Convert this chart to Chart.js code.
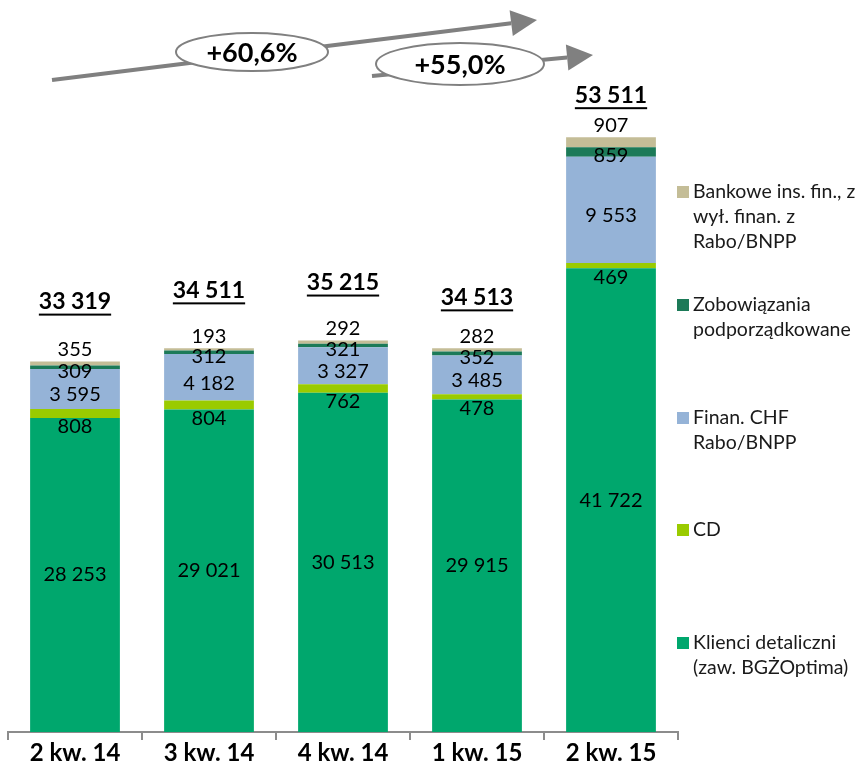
<!DOCTYPE html>
<html>
<head>
<meta charset="utf-8">
<script src="https://cdn.jsdelivr.net/npm/chart.js@4"></script>
<style>
  body { margin: 0; background: #fff; }
  #wrap { position: relative; width: 862px; height: 766px; }
</style>
</head>
<body>
<div id="wrap"><canvas id="c" width="862" height="766"></canvas></div>
<script>
// dane
var kwartaly = ["2 kw. 14", "3 kw. 14", "4 kw. 14", "1 kw. 15", "2 kw. 15"];
var klienci = [28253, 29021, 30513, 29915, 41722];
var cd = [808, 804, 762, 478, 469];
var finanChf = [3595, 4182, 3327, 3485, 9553];
var zobowiazania = [309, 312, 321, 352, 859];
var bankowe = [355, 193, 292, 282, 907];
var sumy = [33319, 34511, 35215, 34513, 53511];
var dynamika = ["+60,6%", "+55,0%"];

var FONT = "Lato, 'Open Sans', sans-serif";

function fmt(v) {
    return String(v).replace(/\B(?=(\d{3})+(?!\d))/g, " ");
}

var serie = [
    { label: ["Klienci detaliczni", "(zaw. BGŻOptima)"], data: klienci, color: "#00A76D" },
    { label: ["CD"], data: cd, color: "#9ACB00" },
    { label: ["Finan. CHF", "Rabo/BNPP"], data: finanChf, color: "#95B3D7" },
    { label: ["Zobowiązania", "podporządkowane"], data: zobowiazania, color: "#1C7A58" },
    { label: ["Bankowe ins. fin., z", "wył. finan. z", "Rabo/BNPP"], data: bankowe, color: "#C4BD97" }
];

// gdzie legenda (y pierwszej linii), od gory
var legendY = [192, 305, 418, 530, 643];
var legendOrder = [4, 3, 2, 1, 0];
// przesuniecie sum nad slupkami
var sumOffset = [60, 58, 58, 51, 42];

var labelsPlugin = {
    id: "etykiety",
    afterDatasetsDraw: function(chart) {
        var ctx = chart.ctx;
        ctx.save();
        ctx.textAlign = "center";
        ctx.textBaseline = "middle";
        ctx.fillStyle = "#000";
        ctx.font = "20px " + FONT;
        chart.data.datasets.forEach(function(ds, di) {
            var meta = chart.getDatasetMeta(di);
            meta.data.forEach(function(bar, i) {
                var top = bar.y, bottom = bar.base;
                var y;
                if (di == 0) y = (top + bottom) / 2;
                else if (di == 1) y = bottom + 9;
                else if (di == 2) y = (top + bottom) / 2 + 6;
                else if (di == 3) y = (top + bottom) / 2 + 4;
                else y = top - 12;
                ctx.fillText(fmt(ds.data[i]), bar.x, y);
            });
        });
        // sumy
        var last = chart.getDatasetMeta(chart.data.datasets.length - 1);
        ctx.font = "bold 23px " + FONT;
        last.data.forEach(function(bar, i) {
            var t = fmt(sumy[i]);
            var y = bar.y - sumOffset[i];
            ctx.fillText(t, bar.x, y);
            var w = ctx.measureText(t).width;
            ctx.fillRect(bar.x - w / 2, y + 12, w, 2);
        });
        ctx.restore();
    },
    afterDraw: function(chart) {
        var ctx = chart.ctx;
        ctx.save();
        // legenda
        ctx.font = "19.5px " + FONT;
        ctx.textAlign = "left";
        ctx.textBaseline = "middle";
        legendOrder.forEach(function(di, k) {
            var s = serie[di];
            ctx.fillStyle = s.color;
            ctx.fillRect(677, legendY[k] - 6, 12, 12);
            ctx.fillStyle = "#1a1a1a";
            s.label.forEach(function(line, j) {
                ctx.fillText(line, 693, legendY[k] + j * 25);
            });
        });

        // strzalki
        function arrow(x1, y1, x2, y2, head) {
            var a = Math.atan2(y2 - y1, x2 - x1);
            var bx = x2 - head * Math.cos(a), by = y2 - head * Math.sin(a);
            ctx.strokeStyle = "#808080";
            ctx.lineWidth = 4;
            ctx.beginPath();
            ctx.moveTo(x1, y1);
            ctx.lineTo(bx, by);
            ctx.stroke();
            ctx.fillStyle = "#808080";
            ctx.beginPath();
            ctx.moveTo(x2, y2);
            ctx.lineTo(bx + 13 * Math.sin(a), by - 13 * Math.cos(a));
            ctx.lineTo(bx - 13 * Math.sin(a), by + 13 * Math.cos(a));
            ctx.closePath();
            ctx.fill();
        }
        function bubble(cx, cy, rx, ry, text) {
            ctx.beginPath();
            ctx.ellipse(cx, cy, rx, ry, 0, 0, Math.PI * 2);
            ctx.fillStyle = "#fff";
            ctx.fill();
            ctx.strokeStyle = "#808080";
            ctx.lineWidth = 2;
            ctx.stroke();
            ctx.fillStyle = "#000";
            ctx.font = "bold 27px " + FONT;
            ctx.textAlign = "center";
            ctx.textBaseline = "middle";
            ctx.fillText(text, cx, cy + 1);
        }
        arrow(52, 80, 537, 20, 26);
        bubble(252, 52, 76, 19, dynamika[0]);
        arrow(372, 76, 593, 55, 26);
        bubble(460, 64, 84, 21, dynamika[1]);
        ctx.restore();
    }
};

var datasets = serie.map(function(s) {
    return {
        label: s.label.join(" "),
        data: s.data,
        backgroundColor: s.color,
        borderWidth: 0,
        barPercentage: 0.67,
        categoryPercentage: 1
    };
});

var chart = new Chart(document.getElementById("c").getContext("2d"), {
    type: "bar",
    data: { labels: kwartaly, datasets: datasets },
    options: {
        responsive: false,
        animation: false,
        layout: { padding: { left: 8, right: 184, top: 0, bottom: 0 } },
        plugins: { legend: { display: false }, tooltip: { enabled: false } },
        scales: {
            x: {
                stacked: true,
                grid: { display: true, drawOnChartArea: false, offset: true, tickLength: 8, color: "#8c8c8c", lineWidth: 2 },
                border: { display: true, color: "#8c8c8c", width: 2 },
                ticks: { color: "#000", font: { family: FONT, size: 24, weight: "bold", lineHeight: 1 }, padding: 1 }
            },
            y: { stacked: true, display: false, min: 0, max: 65850 }
        }
    },
    plugins: [labelsPlugin]
});
</script>
</body>
</html>
